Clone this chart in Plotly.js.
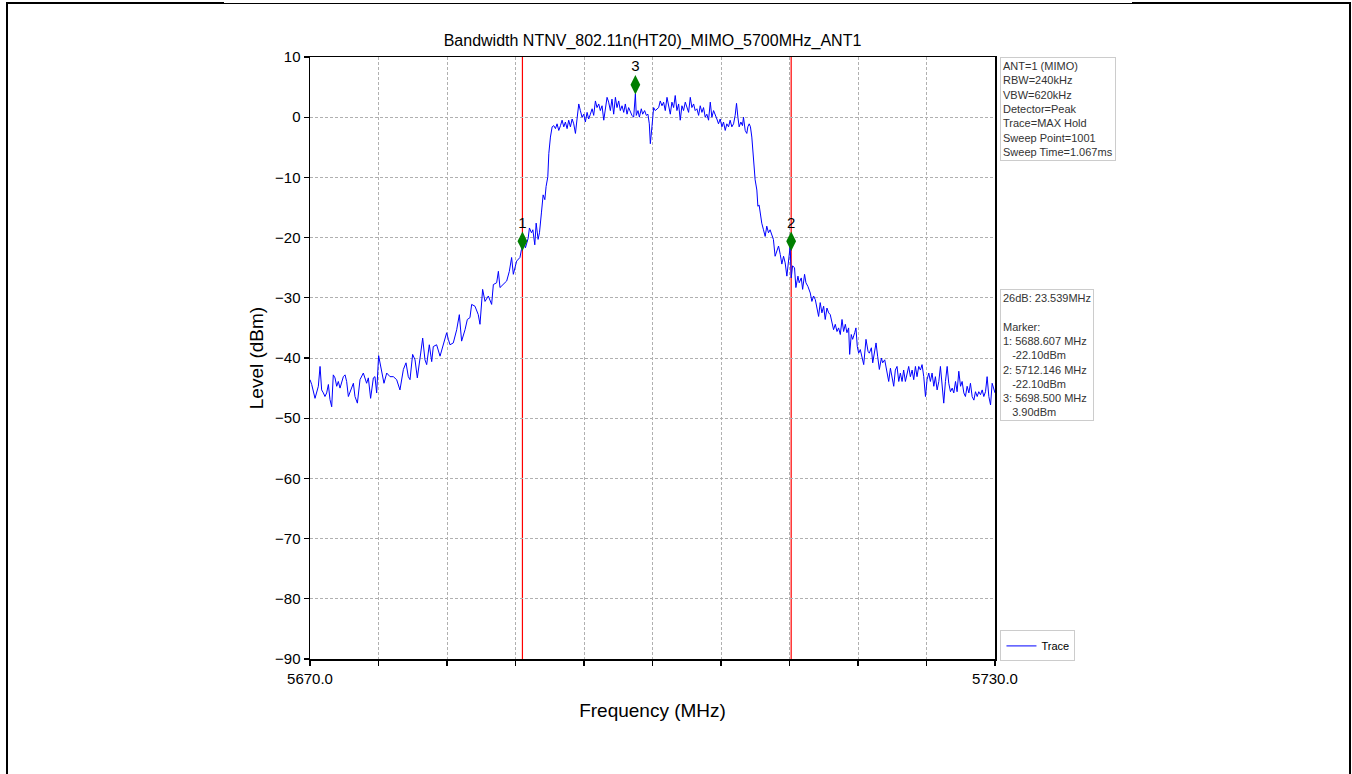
<!DOCTYPE html>
<html>
<head>
<meta charset="utf-8">
<script src="https://cdn.plot.ly/plotly-3.0.1.min.js"></script>
<style>
  html, body { margin: 0; padding: 0; background: #ffffff; }
  #chart { position: absolute; left: 0; top: 0; width: 1352px; height: 774px; }
  .bd { position: absolute; background: #000000; z-index: 10; pointer-events: none; }
</style>
</head>
<body>
<div id="chart"></div>
<div class="bd" style="left:6px; top:2px; width:2px; height:772px;"></div>
<div class="bd" style="left:6px; top:2px; width:218px; height:2px;"></div>
<div class="bd" style="left:224px; top:3px; width:908px; height:1px;"></div>
<div class="bd" style="left:1132px; top:2px; width:219px; height:2px;"></div>
<div class="bd" style="left:1349px; top:2px; width:2px; height:772px;"></div>
<script>
// ---- Data ----
const chartTitle = 'Bandwidth NTNV_802.11n(HT20)_MIMO_5700MHz_ANT1';

const freqMHz = [
  5670.00,5670.15,5670.44,5670.73,5670.88,5671.02,5671.17,5671.31,5671.46,5671.61,
  5671.75,5671.90,5672.04,5672.19,5672.34,5672.48,5672.63,5672.92,5673.07,5673.21,
  5673.36,5673.50,5673.80,5673.94,5674.15,5674.38,5674.67,5674.96,5675.11,5675.31,
  5675.55,5675.69,5675.84,5676.01,5676.28,5676.48,5676.72,5677.01,5677.30,5677.59,
  5677.88,5678.18,5678.41,5678.61,5678.76,5678.99,5679.20,5679.40,5679.64,5679.87,
  5680.07,5680.22,5680.45,5680.66,5680.80,5681.09,5681.39,5681.68,5681.97,5682.12,
  5682.26,5682.55,5682.85,5683.08,5683.28,5683.58,5683.78,5684.01,5684.16,5684.45,
  5684.74,5684.89,5685.12,5685.33,5685.62,5685.91,5686.06,5686.35,5686.50,5686.64,
  5686.93,5687.23,5687.46,5687.66,5687.81,5688.10,5688.39,
  5688.52,5688.73,5688.87,5689.11,5689.22,5689.40,5689.52,5689.69,5689.81,5689.98,
  5690.10,5690.27,5690.42,5690.57,5690.68,5690.83,5690.92,5691.06,5691.21,5691.35,
  5691.50,5691.64,5691.79,5691.94,5692.08,5692.23,5692.37,5692.52,5692.66,5692.81,
  5692.96,5693.10,5693.25,5693.39,5693.54,5693.68,5693.83,5693.98,5694.12,5694.27,
  5694.41,5694.56,5694.71,5694.85,5695.00,5695.14,5695.29,5695.43,5695.58,5695.73,
  5695.87,5696.02,5696.16,5696.31,5696.45,5696.60,5696.75,5696.89,5697.04,5697.18,
  5697.33,5697.48,5697.62,5697.77,5697.91,5698.06,5698.20,5698.35,5698.50,5698.58,
  5698.73,5698.85,5699.02,5699.14,5699.31,5699.46,5699.60,5699.72,5699.81,5699.95,
  5700.10,5700.24,5700.39,5700.54,5700.68,5700.83,5700.97,5701.12,5701.27,5701.41,
  5701.56,5701.70,5701.85,5701.99,5702.14,5702.29,5702.43,5702.58,5702.72,5702.87,
  5703.01,5703.16,5703.31,5703.45,5703.60,5703.74,5703.89,5704.04,5704.18,5704.33,
  5704.47,5704.62,5704.76,5704.91,5705.06,5705.20,5705.35,5705.49,5705.64,5705.78,
  5705.93,5706.08,5706.22,5706.37,5706.51,5706.66,5706.80,5706.95,5707.10,5707.24,
  5707.36,5707.48,5707.59,5707.74,5707.88,5707.97,5708.12,5708.26,5708.35,5708.47,
  5708.58,5708.70,5708.85,5708.99,5709.14,5709.23,5709.34,5709.43,5709.57,5709.72,
  5709.87,5710.01,5710.16,5710.30,5710.45,5710.59,5710.74,5710.89,
  5711.04,5711.19,5711.33,5711.48,5711.62,5711.77,5711.92,5712.06,5712.15,5712.27,
  5712.44,5712.56,5712.74,5712.85,5713.03,5713.15,5713.32,5713.44,5713.61,5713.82,
  5713.96,5714.11,5714.26,5714.40,5714.55,5714.69,5714.84,5714.99,5715.13,5715.28,
  5715.43,5715.57,5715.72,5715.86,5716.01,5716.16,5716.30,5716.45,5716.60,5716.74,
  5716.89,5717.03,5717.18,5717.27,5717.41,5717.53,5717.71,5717.82,5717.94,5718.06,
  5718.20,5718.35,5718.50,5718.70,5718.88,5718.99,5719.17,5719.29,5719.46,5719.58,
  5719.72,5719.87,5720.05,5720.16,5720.34,5720.46,5720.69,5720.84,5720.98,5721.13,
  5721.27,5721.42,5721.57,5721.71,5721.86,5722.00,5722.15,5722.30,5722.44,5722.59,
  5722.74,5722.88,5723.03,5723.17,5723.32,5723.47,5723.61,5723.76,5723.91,5724.05,
  5724.20,5724.34,5724.49,5724.64,5724.78,5724.93,5725.08,5725.22,5725.37,5725.51,
  5725.66,5725.81,5725.95,5726.10,5726.25,5726.39,5726.54,5726.68,5726.83,5726.98,
  5727.12,5727.27,5727.41,5727.56,5727.71,5727.85,5728.00,5728.15,5728.29,5728.44,
  5728.58,5728.73,5728.88,5729.02,5729.17,5729.31,5729.46,5729.61,5729.75,5730.00
];

const levelDbm = [
  -43.6,-44.4,-46.7,-44.7,-41.4,-45.3,-45.8,-46.4,-45.8,-44.4,
  -46.9,-48.1,-42.8,-43.3,-44.7,-43.9,-45.0,-43.1,-42.8,-43.9,
  -46.4,-45.6,-44.2,-46.4,-47.5,-43.6,-42.5,-44.2,-43.3,-46.7,
  -43.3,-43.1,-45.8,-39.6,-42.5,-44.2,-42.5,-43.1,-43.1,-43.6,
  -45.3,-41.9,-40.8,-43.1,-43.6,-39.4,-40.3,-43.3,-40.0,-36.7,
  -40.3,-41.1,-37.8,-40.6,-38.1,-37.8,-39.7,-37.5,-35.8,-36.9,
  -37.8,-37.5,-35.3,-32.8,-37.2,-35.3,-33.6,-33.3,-31.1,-31.4,
  -32.8,-34.4,-28.6,-30.6,-29.7,-31.1,-27.8,-27.5,-25.6,-28.3,
  -27.8,-27.2,-25.6,-23.3,-26.1,-23.9,-23.3,
  -22.0,-20.6,-21.7,-20.1,-18.4,-19.2,-18.7,-21.2,-17.6,-20.3,
  -19.2,-15.9,-12.9,-13.7,-11.5,-9.9,-6.0,-3.3,-1.6,-1.4,
  -1.9,-1.1,-2.2,-1.4,-0.5,-1.6,-0.8,-1.9,-0.5,-1.6,
  -0.3,-1.1,-2.7,-0.3,2.2,1.1,0.0,0.5,-0.8,0.8,
  -0.3,0.5,1.4,0.3,2.7,1.6,2.2,1.1,1.9,-0.5,
  1.6,3.3,2.5,1.1,3.0,0.5,3.3,1.6,2.7,1.1,
  1.9,0.8,2.2,0.5,1.6,0.8,0.3,0.0,3.9,0.3,
  1.1,0.0,1.4,0.5,1.1,0.3,0.5,-1.1,-4.4,-1.6,
  1.6,1.1,1.4,1.6,2.7,1.9,2.5,1.1,3.3,1.6,
  0.5,2.5,1.6,3.6,1.1,2.2,-0.5,1.9,1.1,2.5,
  1.6,0.8,3.3,1.6,2.2,1.1,1.4,0.3,1.9,0.8,
  1.6,0.0,0.5,-0.5,2.5,0.0,1.1,0.5,-0.3,-1.1,
  -0.3,-1.6,-0.8,-2.2,-1.1,-1.6,-0.5,-1.6,-1.1,0.3,
  2.3,0.0,-1.6,-0.8,-1.4,0.0,-2.2,-2.7,-1.6,-1.1,
  -1.6,-3.3,-7.1,-10.4,-12.1,-14.8,-14.6,-16.2,-17.6,-18.7,
  -19.8,-18.1,-19.2,-18.7,-19.5,-20.3,-23.1,-22.3,
  -21.4,-22.8,-24.4,-23.1,-24.2,-26.4,-23.3,-21.4,-26.7,-24.7,
  -25.0,-28.3,-26.4,-27.5,-26.7,-28.6,-26.1,-27.5,-28.1,-29.2,
  -30.6,-29.7,-30.3,-31.9,-33.1,-30.8,-32.5,-31.4,-33.6,-31.7,
  -32.5,-32.8,-34.4,-35.3,-34.4,-35.6,-35.0,-36.1,-33.6,-35.6,
  -34.4,-35.8,-35.0,-39.4,-36.1,-36.9,-35.8,-35.0,-38.1,-39.2,
  -38.6,-39.7,-41.1,-36.9,-38.9,-39.2,-38.3,-40.8,-38.6,-37.5,
  -39.7,-41.9,-40.0,-40.8,-40.3,-41.4,-43.9,-41.7,-43.1,-44.7,
  -42.0,-41.4,-43.9,-42.5,-43.9,-42.0,-43.9,-42.5,-41.4,-43.1,
  -42.0,-43.6,-41.4,-43.1,-41.4,-42.0,-41.1,-43.1,-46.4,-43.6,
  -42.5,-43.9,-42.5,-44.7,-43.1,-45.3,-43.9,-41.4,-44.7,-47.5,
  -43.9,-41.4,-44.2,-45.6,-45.0,-45.8,-43.9,-45.6,-42.2,-44.7,
  -43.9,-45.8,-46.4,-44.7,-45.8,-44.2,-46.4,-47.0,-45.6,-46.4,
  -45.6,-46.1,-45.3,-46.4,-45.6,-43.1,-46.4,-47.8,-44.2,-45.8
];

const markerFreq = [5688.607, 5712.146, 5698.500];
const markerDrawnLevel = [-20.6, -20.6, 5.4];
const markerLabels = ['1', '2', '3'];
const boundaryFreq = [5688.607, 5712.146];

const xTickVals = [5670, 5676, 5682, 5688, 5694, 5700, 5706, 5712, 5718, 5724, 5730];
const xTickText = ['5670.0', '', '', '', '', '', '', '', '', '', '5730.0'];
const yTickVals = [10, 0, -10, -20, -30, -40, -50, -60, -70, -80, -90];

const settingsLines = ['ANT=1 (MIMO)', 'RBW=240kHz', 'VBW=620kHz', 'Detector=Peak',
  'Trace=MAX Hold', 'Sweep Point=1001', 'Sweep Time=1.067ms'];
const resultLines = ['26dB: 23.539MHz', '', 'Marker:', '1: 5688.607 MHz', '   -22.10dBm',
  '2: 5712.146 MHz', '   -22.10dBm', '3: 5698.500 MHz', '   3.90dBm'];

// ---- Chart ----
const FONT = 'Liberation Sans, Arial, sans-serif';

const traces = [
  {
    x: freqMHz, y: levelDbm, type: 'scatter', mode: 'lines', name: 'Trace',
    line: { color: '#0000ff', width: 1 }
  },
  {
    x: markerFreq, y: markerDrawnLevel, type: 'scatter', mode: 'markers+text',
    text: markerLabels, textposition: 'top center',
    textfont: { family: FONT, size: 15, color: '#000000' },
    marker: { symbol: 'diamond-tall', size: 14, color: '#007f00' },
    showlegend: false, hoverinfo: 'skip', cliponaxis: false
  }
];

const shapes = boundaryFreq.map(f => ({
  type: 'line', xref: 'x', yref: 'paper', x0: f, x1: f, y0: 0, y1: 1,
  line: { color: '#ff0000', width: 1.2 }, layer: 'between'
}));

const layout = {
  width: 1352, height: 774,
  margin: { l: 310, r: 357, t: 57, b: 115 },
  paper_bgcolor: '#ffffff', plot_bgcolor: '#ffffff',
  font: { family: FONT, size: 14, color: '#000000' },
  title: {
    text: chartTitle, font: { family: FONT, size: 16, color: '#000000' },
    x: 0.5, xref: 'paper', xanchor: 'center',
    y: 0.948, yref: 'container', yanchor: 'middle'
  },
  xaxis: {
    range: [5670, 5730], tickmode: 'array', tickvals: xTickVals, ticktext: xTickText,
    ticks: 'outside', ticklen: 5, tickwidth: 1.2, tickcolor: '#000000',
    showline: true, linecolor: '#000000', linewidth: 1.5, mirror: true,
    showgrid: true, gridcolor: '#b0b0b0', griddash: '3px,2px', gridwidth: 1,
    zeroline: false, tickfont: { family: FONT, size: 15 },
    title: { text: 'Frequency (MHz)', font: { family: FONT, size: 19 }, standoff: 18 }
  },
  yaxis: {
    range: [-90, 10], tickmode: 'array', tickvals: yTickVals,
    ticks: 'outside', ticklen: 5, tickwidth: 1.2, tickcolor: '#000000',
    showline: true, linecolor: '#000000', linewidth: 1.5, mirror: true,
    showgrid: true, gridcolor: '#b0b0b0', griddash: '3px,2px', gridwidth: 1,
    zeroline: false, tickfont: { family: FONT, size: 15 },
    title: { text: 'Level (dBm)', font: { family: FONT, size: 19 }, standoff: 6 }
  },
  showlegend: true,
  legend: {
    x: 1.008, xanchor: 'left', y: -0.004, yanchor: 'bottom',
    bordercolor: '#cccccc', borderwidth: 1, bgcolor: '#ffffff',
    font: { family: FONT, size: 11 }, itemwidth: 30
  },
  shapes: shapes,
  annotations: [
    {
      xref: 'paper', yref: 'paper', x: 1.007, y: 1.0, xanchor: 'left', yanchor: 'top',
      text: settingsLines.join('<br>'), align: 'left', showarrow: false,
      font: { family: FONT, size: 11, color: '#333333' },
      bordercolor: '#cccccc', borderwidth: 1, borderpad: 2, bgcolor: '#ffffff'
    },
    {
      xref: 'paper', yref: 'paper', x: 1.007, y: 0.6146, xanchor: 'left', yanchor: 'top',
      text: resultLines.map(s => s.replace(/ /g, '&nbsp;')).join('<br>'), align: 'left', showarrow: false,
      font: { family: FONT, size: 11, color: '#333333' },
      bordercolor: '#cccccc', borderwidth: 1, borderpad: 2, bgcolor: '#ffffff'
    }
  ]
};

Plotly.newPlot('chart', traces, layout, { displayModeBar: false, staticPlot: true });
</script>
</body>
</html>
